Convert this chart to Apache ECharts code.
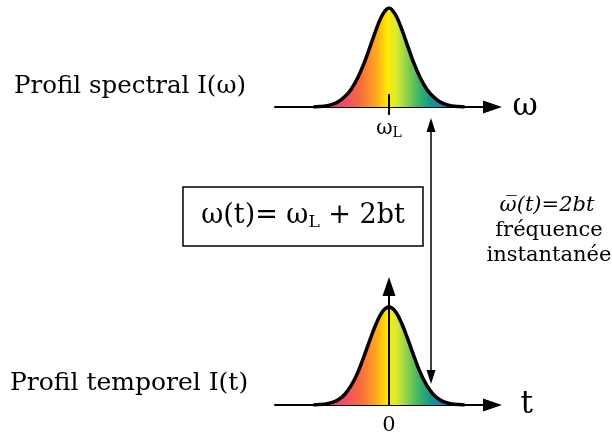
<!DOCTYPE html>
<html><head><meta charset="utf-8">
<script src="https://cdn.jsdelivr.net/npm/echarts@6/dist/echarts.min.js"></script>
<style>html,body{margin:0;padding:0;background:#fff}#c{width:612px;height:440px}</style>
</head><body><div id="c"></div>
<script>
// sample positions (in pulse-width units) and intensities
const xPos = [-3.6,-3.3,-3.0,-2.7,-2.4,-2.1,-1.8,-1.5,-1.2,-0.9,-0.6,-0.3,0,0.3,0.6,0.9,1.2,1.5,1.8,2.1,2.4,2.7,3.0,3.3,3.6];
const spectralI = [0.0,0.004,0.011,0.026,0.056,0.105,0.18,0.29,0.435,0.61,0.79,0.935,1,0.935,0.79,0.61,0.435,0.29,0.18,0.105,0.056,0.026,0.011,0.004,0.0];
const temporalI = [0.0,0.004,0.011,0.026,0.056,0.11,0.2,0.325,0.49,0.67,0.835,0.955,1,0.955,0.835,0.67,0.49,0.325,0.2,0.11,0.056,0.026,0.011,0.004,0.0];
const centerTickX = [0, 0];
const centerTickY = [-0.08, 0.13];
const topLabelValues = [0];
const bottomLabelValues = [0];

const chart = echarts.init(document.getElementById('c'), null, {renderer: 'canvas'});
const serif = 'DejaVu Serif';
const grad = () => new echarts.graphic.LinearGradient(0, 0, 1, 0, [
  {offset: 0, color: '#f03c78'},
  {offset: 0.2, color: '#f04a6a'},
  {offset: 0.31, color: '#f86a40'},
  {offset: 0.42, color: '#ffaa20'},
  {offset: 0.49, color: '#ffea00'},
  {offset: 0.55, color: '#d8ea30'},
  {offset: 0.64, color: '#78c850'},
  {offset: 0.7, color: '#3cb468'},
  {offset: 0.77, color: '#149a88'},
  {offset: 0.85, color: '#1a80b0'},
  {offset: 1, color: '#2864c8'}
]);
const pair = (xs, ys) => xs.map((x, i) => [x, ys[i]]);
const xMin = -5.43, xMax = 4.93;
const arrowLine = {color: '#000', width: 2};

chart.setOption({
  animation: false,
  grid: [
    {left: 275, top: 8, width: 217.5, height: 99, outerBoundsMode: 'none'},
    {left: 275, top: 286.5, width: 217.5, height: 118.5, outerBoundsMode: 'none'}
  ],
  xAxis: [
    {gridIndex: 0, type: 'value', min: xMin, max: xMax, z: 1,
     axisLine: {onZero: false, lineStyle: arrowLine, symbol: ['none', 'triangle'], symbolSize: [13, 19]},
     axisTick: {show: false}, splitLine: {show: false},
     axisLabel: {customValues: topLabelValues, margin: 10, formatter: () => '{w|ω}{s|L}',
       rich: {w: {fontFamily: serif, fontSize: 20, color: '#000'}, s: {fontFamily: serif, fontSize: 14, color: '#000', padding: [9, 0, 0, 0]}}},
     name: 'ω', nameLocation: 'end', nameGap: 20,
     nameTextStyle: {fontFamily: serif, fontSize: 31, color: '#000', verticalAlign: 'middle'}},
    {gridIndex: 1, type: 'value', min: xMin, max: xMax, z: 1,
     axisLine: {onZero: false, lineStyle: arrowLine, symbol: ['none', 'triangle'], symbolSize: [13, 19]},
     axisTick: {show: false}, splitLine: {show: false},
     axisLabel: {customValues: bottomLabelValues, margin: 10, fontFamily: serif, fontSize: 21, color: '#000', formatter: v => String(v)},
     name: 't', nameLocation: 'end', nameGap: 28,
     nameTextStyle: {fontFamily: serif, fontSize: 31, color: '#000', verticalAlign: 'middle', padding: [0, 0, 8, 0]}}
  ],
  yAxis: [
    {gridIndex: 0, type: 'value', min: 0, max: 1, show: false},
    {gridIndex: 1, type: 'value', min: 0, max: 1.209, z: 10,
     axisLine: {show: true, onZero: true, lineStyle: arrowLine, symbol: ['none', 'triangle'], symbolSize: [13, 19]},
     axisTick: {show: false}, axisLabel: {show: false}, splitLine: {show: false}}
  ],
  series: [
    {type: 'line', xAxisIndex: 0, yAxisIndex: 0, data: pair(xPos, spectralI), smooth: 0.35, symbol: 'none',
     lineStyle: {color: '#000', width: 3.5}, areaStyle: {color: grad(), opacity: 1}, z: 2},
    {type: 'line', xAxisIndex: 1, yAxisIndex: 1, data: pair(xPos, temporalI), smooth: 0.35, symbol: 'none',
     lineStyle: {color: '#000', width: 3.5}, areaStyle: {color: grad(), opacity: 1}, z: 2},
    {type: 'line', xAxisIndex: 0, yAxisIndex: 0, data: pair(centerTickX, centerTickY), symbol: 'none', clip: false,
     lineStyle: {color: '#000', width: 2}, z: 5,
     markLine: {silent: true, symbol: ['triangle', 'triangle'], symbolSize: [9, 14],
       lineStyle: {color: '#000', width: 1.5, type: 'solid'}, label: {show: false},
       data: [[{x: 431, y: 125}, {x: 431, y: 377}]]}}
  ],
  graphic: [
    {type: 'text', x: 14, y: 87, style: {text: 'Profil spectral I(ω)', font: '24.5px "DejaVu Serif"', fill: '#000', verticalAlign: 'middle'}},
    {type: 'text', x: 10, y: 383, style: {text: 'Profil temporel I(t)', font: '25px "DejaVu Serif"', fill: '#000', verticalAlign: 'middle'}},
    {type: 'rect', shape: {x: 183, y: 187, width: 240, height: 59}, style: {fill: 'none', stroke: '#000', lineWidth: 1.5}},
    {type: 'text', x: 303, y: 216, style: {text: '{a|ω(t)= ω}{s|L}{a| + 2bt}', align: 'center', verticalAlign: 'middle',
      rich: {a: {fontFamily: serif, fontSize: 27, color: '#000'}, s: {fontFamily: serif, fontSize: 17, color: '#000', padding: [13, 0, 0, 0]}}}},
    {type: 'text', x: 547, y: 206, style: {text: 'ω\u0305(t)=2bt', font: 'italic 21px "DejaVu Serif"', fill: '#000', align: 'center', verticalAlign: 'middle'}},
    {type: 'text', x: 549, y: 231, style: {text: 'fréquence', font: '21px "DejaVu Serif"', fill: '#000', align: 'center', verticalAlign: 'middle'}},
    {type: 'text', x: 549, y: 256, style: {text: 'instantanée', font: '21px "DejaVu Serif"', fill: '#000', align: 'center', verticalAlign: 'middle'}}
  ]
});
</script></body></html>
